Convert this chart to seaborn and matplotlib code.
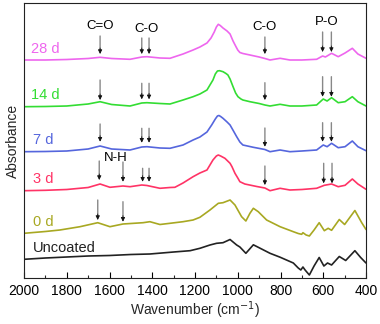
import numpy as np
import pandas as pd
import matplotlib
matplotlib.use("Agg")
import matplotlib.pyplot as plt
import seaborn as sns

# ---- data (offset absorbance, arbitrary units) ----
samples = ["28 d", "14 d", "7 d", "3 d", "0 d", "Uncoated"]
colors = ["#ee66ee", "#33dd33", "#5566dd", "#ff3366", "#a8a822", "#222222"]

wn_28 = [2000, 1900, 1800, 1700, 1644, 1590, 1504, 1449, 1425, 1364, 1317, 1256, 1209, 1177, 1144, 1125, 1110, 1100,
         1091, 1082, 1069, 1050, 1036, 1022, 1010, 1000, 990, 976, 943, 900, 873, 849, 802, 756, 700, 631, 603, 590,
         561, 530, 498, 464, 438, 400]
ab_28 = [218, 218, 218.5, 219.5, 220.7, 219.5, 218.7, 221, 221.3, 220, 219.7, 224, 228, 231, 235, 240, 246, 251,
         253.7, 252.5, 250, 247, 244, 237, 232, 228, 225.5, 224.5, 223, 221, 219.5, 218, 219.7, 218, 218, 218.7, 222, 221,
         224.7, 221.3, 225, 229.7, 224, 219.7]

wn_14 = [2000, 1900, 1800, 1700, 1644, 1590, 1504, 1449, 1425, 1364, 1317, 1256, 1209, 1177, 1144, 1130, 1116, 1105,
         1095, 1085, 1069, 1055, 1046, 1036, 1022, 1010, 999, 985, 976, 943, 900, 873, 849, 802, 756, 700, 631, 600,
         582, 561, 530, 498, 464, 438, 400]
ab_14 = [171.3, 171.5, 172, 174, 176.3, 173.5, 172, 175, 175.3, 174.5, 174, 178, 181.3, 184, 188, 193, 198, 204,
         207, 207.3, 206.3, 204.5, 203, 199, 191.3, 185, 181.3, 179, 178, 176.3, 174.5, 173, 172, 173.7, 172, 172, 173, 179,
         177, 180.3, 175.3, 176.3, 181.3, 176.3, 172]

wn_7 = [2000, 1900, 1800, 1700, 1644, 1590, 1504, 1449, 1425, 1364, 1317, 1256, 1209, 1177, 1144, 1122, 1105, 1095,
        1088, 1080, 1069, 1050, 1036, 1020, 1005, 990, 976, 927, 873, 849, 802, 756, 700, 631, 600, 582, 561, 530,
        498, 464, 438, 400]
ab_7 = [126.3, 126.5, 127, 129, 132, 129, 128, 131, 131.3, 130, 129.7, 133, 138, 141, 146, 153, 159, 162,
        162.5, 161.5, 159.7, 156, 153, 147, 141.3, 136, 133, 130.7, 128.5, 126.3, 128, 126.3, 127, 128, 133, 131.3, 134.7, 130.3,
        131.3, 137, 131.3, 127.3]

wn_3 = [2000, 1900, 1800, 1700, 1644, 1598, 1537, 1504, 1449, 1425, 1364, 1317, 1294, 1256, 1209, 1177, 1144, 1116,
        1100, 1091, 1080, 1060, 1036, 1027, 1013, 999, 990, 967, 911, 873, 849, 802, 756, 700, 631, 595, 561, 530,
        498, 464, 438, 400]
ab_3 = [87.3, 87.7, 88.5, 90.5, 94, 90.7, 92, 91.3, 93, 92.5, 89.7, 90.5, 90.7, 95, 101.3, 105, 108, 118,
        122, 123, 122, 119.7, 114.7, 111.3, 104.7, 99.7, 96.3, 94, 91.5, 90, 87.3, 89.7, 88, 88.5, 89.7, 92.7, 94, 91.3,
        92.7, 99, 94, 88.7]

wn_0 = [2000, 1900, 1832, 1738, 1655, 1598, 1537, 1443, 1411, 1364, 1317, 1256, 1209, 1177, 1130, 1091, 1069, 1036,
        1013, 982, 962, 943, 927, 904, 865, 802, 740, 717, 701, 695, 680, 665, 643, 619, 595, 577, 561, 525, 500, 452, 420, 400]
ab_0 = [44.7, 46.5, 48, 51.3, 55.3, 51.3, 54, 55.3, 56.3, 53.5, 54.7, 56.3, 58, 60.7, 68, 74.7, 75.3, 78,
        73, 61.3, 57, 64.7, 69.7, 66.3, 58, 51.3, 46.3, 44.5, 43.7, 45.3, 43, 42, 48, 55.3, 47.3, 49.7, 47.7, 58.5, 53.5, 67.5, 55.3, 48.5]

wn_un = [2000, 1900, 1800, 1700, 1600, 1500, 1411, 1300, 1223, 1177, 1130, 1099, 1069, 1036, 1005, 990, 962, 927, 904,
         849, 802, 740, 717, 705, 695, 685, 665, 643, 619, 597, 580, 561, 525, 495, 452, 425, 400]
ab_un = [18.7, 20, 21, 22, 22.5, 23.5, 24, 26, 27.3, 29.7, 33, 34.7, 35.3, 38.5, 33, 31, 24.7, 33.2, 30.7,
         24.7, 20.8, 15, 10, 8, 11, 8, 3, 12, 20.5, 12, 15, 13, 21.5, 17.5, 27.3, 20.5, 15]

wavenumbers = [wn_28, wn_14, wn_7, wn_3, wn_0, wn_un]
absorbances = [ab_28, ab_14, ab_7, ab_3, ab_0, ab_un]

# curve labels: (wavenumber, height)
label_wn = [1967, 1967, 1958, 1959, 1958, 1958]
label_y = [229, 183, 138, 99, 56.3, 30]

# band annotations
band_text = ["C=O", "C-O", "C-O", "P-O", "N-H"]
band_wn = [1644, 1426, 877, 584, 1570]
band_y = [252, 249, 251, 256.3, 120]

# arrows: (wavenumber, top, tip)
arrow_wn = [1644, 1449, 1415, 873, 603, 562,
            1644, 1449, 1415, 873, 603, 562,
            1644, 1449, 1415, 873, 603, 562,
            1648, 1537, 1445, 1415, 873, 598, 559,
            1655, 1537]
arrow_top = [242, 240, 240, 241, 246, 246,
             198, 194.7, 194.7, 195.3, 201.3, 201.3,
             154, 149.7, 149.7, 150, 155.3, 155.3,
             117, 116, 109.7, 109.7, 112, 114.7, 114.7,
             78, 76.3]
arrow_tip = [224, 224, 224, 224, 226, 226,
             178, 178.7, 178.7, 178, 181.3, 181.3,
             136.3, 135.3, 135.3, 131.3, 136.3, 136.3,
             98, 96.3, 96.3, 96.3, 93, 94.7, 94.7,
             58, 56.3]

rows = []
for s, wl, al in zip(samples, wavenumbers, absorbances):
    for w, a in zip(wl, al):
        rows.append((s, w, a))
df = pd.DataFrame(rows, columns=["sample", "wavenumber", "absorbance"])

sns.set_theme(style="ticks")
plt.rcParams["font.family"] = ["Liberation Sans", "DejaVu Sans"]

fig = plt.figure(figsize=(3.8, 3.24), dpi=100)
ax = fig.add_axes([24 / 380, 1 - 278 / 324, 342 / 380, 275 / 324])

sns.lineplot(data=df, x="wavenumber", y="absorbance", hue="sample", hue_order=samples,
             palette=dict(zip(samples, colors)), estimator=None, sort=True, lw=1.2,
             legend=False, ax=ax)
for ln in ax.get_lines():
    ln.set_solid_joinstyle("round")

for s, c, lw_, ly in zip(samples, colors, label_wn, label_y):
    ax.text(lw_, ly, s, color=c, fontsize=10.5, ha="left", va="center")

for t, w, y in zip(band_text, band_wn, band_y):
    ax.text(w, y, t, color="black", fontsize=9.5, ha="center", va="center")

for w, top, tip in zip(arrow_wn, arrow_top, arrow_tip):
    ax.annotate("", xy=(w, tip + 4), xytext=(w, top),
                arrowprops=dict(arrowstyle="-", color="#888888", lw=1.0, shrinkA=0, shrinkB=0))
    ax.annotate("", xy=(w, tip), xytext=(w, tip + 6),
                arrowprops=dict(arrowstyle="-|>", color="#111111", lw=0.6,
                                mutation_scale=6, shrinkA=0, shrinkB=0))

ax.set_xlim(2000, 400)
ax.set_ylim(0, 275)
ax.set_xticks([2000, 1800, 1600, 1400, 1200, 1000, 800, 600, 400])
ax.set_xticks(np.arange(1900, 400, -200), minor=True)
ax.set_yticks([])
ax.tick_params(axis="x", which="major", direction="in", length=4, width=0.8, labelsize=10, pad=4, colors="black")
ax.tick_params(axis="x", which="minor", direction="in", length=2.5, width=0.8)
ax.set_xlabel("Wavenumber (cm$^{-1}$)", fontsize=10, labelpad=1)
ax.set_ylabel("Absorbance", fontsize=10, labelpad=3)
for sp in ax.spines.values():
    sp.set_visible(True)
    sp.set_color("#222222")
    sp.set_linewidth(0.8)

fig.savefig("out.png", dpi=100)
